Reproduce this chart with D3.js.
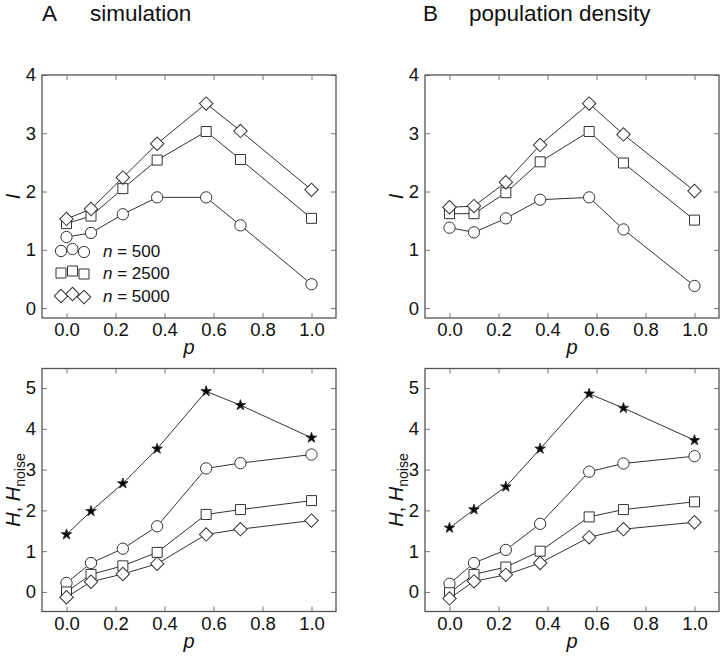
<!DOCTYPE html>
<html>
<head>
<meta charset="utf-8">
<script src="https://cdn.jsdelivr.net/npm/d3@7"></script>
<style>
  body { margin: 0; background: #fff; }
  svg { display: block; font-family: "Liberation Sans", Arial, Helvetica, sans-serif; }
</style>
</head>
<body>
<svg id="chart" width="722" height="658"></svg>
<script>
// ---------- data ----------
const pValues = [0, 0.1, 0.23, 0.37, 0.57, 0.71, 1.0];
const xTicks = [0, 0.2, 0.4, 0.6, 0.8, 1.0];
const iTicks = [0, 1, 2, 3, 4];
const hTicks = [0, 1, 2, 3, 4, 5];
const legendLabels = ["500", "2500", "5000"];

// Panel A (simulation), information I
const simI500  = [1.22, 1.29, 1.61, 1.90, 1.90, 1.42, 0.41];
const simI2500 = [1.45, 1.58, 2.05, 2.54, 3.03, 2.55, 1.54];
const simI5000 = [1.53, 1.70, 2.24, 2.82, 3.51, 3.04, 2.03];
// Panel B (population density), information I
const popI500  = [1.38, 1.30, 1.54, 1.86, 1.90, 1.35, 0.38];
const popI2500 = [1.62, 1.62, 1.98, 2.51, 3.03, 2.49, 1.51];
const popI5000 = [1.73, 1.75, 2.16, 2.80, 3.51, 2.98, 2.01];
// Panel A (simulation), entropy H and H_noise
const simHnoise = [1.41, 1.98, 2.66, 3.51, 4.92, 4.58, 3.78];
const simH500   = [0.22, 0.71, 1.06, 1.61, 3.03, 3.16, 3.37];
const simH2500  = [0.00, 0.43, 0.64, 0.97, 1.90, 2.02, 2.24];
const simH5000  = [-0.13, 0.25, 0.44, 0.69, 1.41, 1.54, 1.75];
// Panel B (population density), entropy H and H_noise
const popHnoise = [1.57, 2.02, 2.58, 3.51, 4.86, 4.51, 3.72];
const popH500   = [0.20, 0.71, 1.03, 1.67, 2.95, 3.15, 3.33];
const popH2500  = [-0.02, 0.43, 0.61, 1.00, 1.84, 2.02, 2.21];
const popH5000  = [-0.16, 0.26, 0.42, 0.71, 1.34, 1.54, 1.71];

// ---------- layout ----------
const svg = d3.select("#chart");
const W = 294, H = 243;
const lineColor = "#333";
const frameColor = "#555";
const tickColor = "#777";

const markerPath = {
  circle: d3.symbol().type(d3.symbolCircle).size(100)(),
  square: d3.symbol().type(d3.symbolSquare).size(100)(),
  diamond: d3.symbol().type(d3.symbolSquare).size(90)(),
  star: d3.symbol().type(d3.symbolStar).size(34)()
};

function drawMarker(g, shape, x, y) {
  return g.append("path")
    .attr("d", markerPath[shape])
    .attr("transform", `translate(${x},${y})` + (shape === "diamond" ? " rotate(45)" : ""))
    .attr("stroke", lineColor)
    .attr("stroke-width", 1)
    .attr("fill", shape === "star" ? "#000" : "#fff");
}

function panel(cfg) {
  const g = svg.append("g").attr("transform", `translate(${cfg.left},${cfg.top})`);
  const x = d3.scaleLinear().domain([-0.1, 1.1]).range([0, W]);
  const y = d3.scaleLinear().domain(cfg.ydomain).range([H, 0]);

  // axes with inward ticks
  const ax = [
    g.append("g").attr("transform", `translate(0,${H})`)
      .call(d3.axisBottom(x).tickValues(xTicks).tickFormat(d3.format(".1f")).tickSizeInner(-5).tickSizeOuter(0).tickPadding(5)),
    g.append("g")
      .call(d3.axisTop(x).tickValues(xTicks).tickFormat("").tickSizeInner(-5).tickSizeOuter(0)),
    g.append("g")
      .call(d3.axisLeft(y).tickValues(cfg.yticks).tickFormat(d3.format("d")).tickSizeInner(-5).tickSizeOuter(0).tickPadding(6)),
    g.append("g").attr("transform", `translate(${W},0)`)
      .call(d3.axisRight(y).tickValues(cfg.yticks).tickFormat("").tickSizeInner(-5).tickSizeOuter(0))
  ];
  ax.forEach(a => {
    a.select(".domain").remove();
    a.selectAll(".tick line").attr("stroke", tickColor);
    a.selectAll(".tick text").attr("fill", "#111").style("font-size", "18.5px");
  });

  g.append("rect").attr("width", W).attr("height", H)
    .attr("fill", "none").attr("stroke", frameColor).attr("stroke-width", 1.3);

  const line = d3.line().x((d, i) => x(pValues[i])).y(d => y(d));
  cfg.series.forEach(s => {
    g.append("path").datum(s.values).attr("d", line)
      .attr("fill", "none").attr("stroke", lineColor).attr("stroke-width", 1);
  });
  cfg.series.forEach(s => {
    s.values.forEach((v, i) => drawMarker(g, s.shape, x(pValues[i]), y(v)));
  });

  // x label
  g.append("text").attr("x", W / 2).attr("y", H + 36)
    .attr("text-anchor", "middle").style("font-size", "20px").style("font-style", "italic")
    .attr("fill", "#111").text("p");

  // y label
  const yl = g.append("text")
    .attr("transform", `translate(${cfg.ylabX - cfg.left},${H / 2}) rotate(-90)`)
    .attr("text-anchor", "middle").style("font-size", "20px").attr("fill", "#111");
  if (cfg.ylabel === "I") {
    yl.append("tspan").style("font-style", "italic").text("I");
  } else {
    yl.append("tspan").style("font-style", "italic").text("H");
    yl.append("tspan").text(", ");
    yl.append("tspan").style("font-style", "italic").text("H");
    yl.append("tspan").style("font-size", "14px").attr("dy", 5).text("noise");
  }

  if (cfg.legend) {
    const shapes = ["circle", "square", "diamond"];
    const rowY = [176, 198, 221];
    const mx = [19, 30.5, 42];
    const my = [0, -2, 1];
    shapes.forEach((sh, r) => {
      mx.forEach((xx, k) => drawMarker(g, sh, xx, rowY[r] + my[k]));
      const t = g.append("text").attr("x", 61).attr("y", rowY[r] + 6)
        .style("font-size", "17px").attr("fill", "#111");
      t.append("tspan").style("font-style", "italic").text("n");
      t.append("tspan").text(" = " + legendLabels[r]);
    });
  }
  return g;
}

panel({ left: 42, top: 75, ydomain: [-0.17, 4], yticks: iTicks, ylabel: "I", ylabX: 20, legend: true,
  series: [
    { shape: "circle", values: simI500 },
    { shape: "square", values: simI2500 },
    { shape: "diamond", values: simI5000 }
  ] });
panel({ left: 425, top: 75, ydomain: [-0.17, 4], yticks: iTicks, ylabel: "I", ylabX: 403,
  series: [
    { shape: "circle", values: popI500 },
    { shape: "square", values: popI2500 },
    { shape: "diamond", values: popI5000 }
  ] });
panel({ left: 42, top: 368.5, ydomain: [-0.48, 5.48], yticks: hTicks, ylabel: "H", ylabX: 20,
  series: [
    { shape: "star", values: simHnoise },
    { shape: "circle", values: simH500 },
    { shape: "square", values: simH2500 },
    { shape: "diamond", values: simH5000 }
  ] });
panel({ left: 425, top: 368.5, ydomain: [-0.48, 5.48], yticks: hTicks, ylabel: "H", ylabX: 403,
  series: [
    { shape: "star", values: popHnoise },
    { shape: "circle", values: popH500 },
    { shape: "square", values: popH2500 },
    { shape: "diamond", values: popH5000 }
  ] });

// panel titles
const titles = [
  { letter: "A", text: "simulation", lx: 42, tx: 90 },
  { letter: "B", text: "population density", lx: 423, tx: 469 }
];
titles.forEach(t => {
  svg.append("text").attr("x", t.lx).attr("y", 21).style("font-size", "22.5px").attr("fill", "#111").text(t.letter);
  svg.append("text").attr("x", t.tx).attr("y", 21).style("font-size", "22.5px").attr("fill", "#111").text(t.text);
});
</script>
</body>
</html>
